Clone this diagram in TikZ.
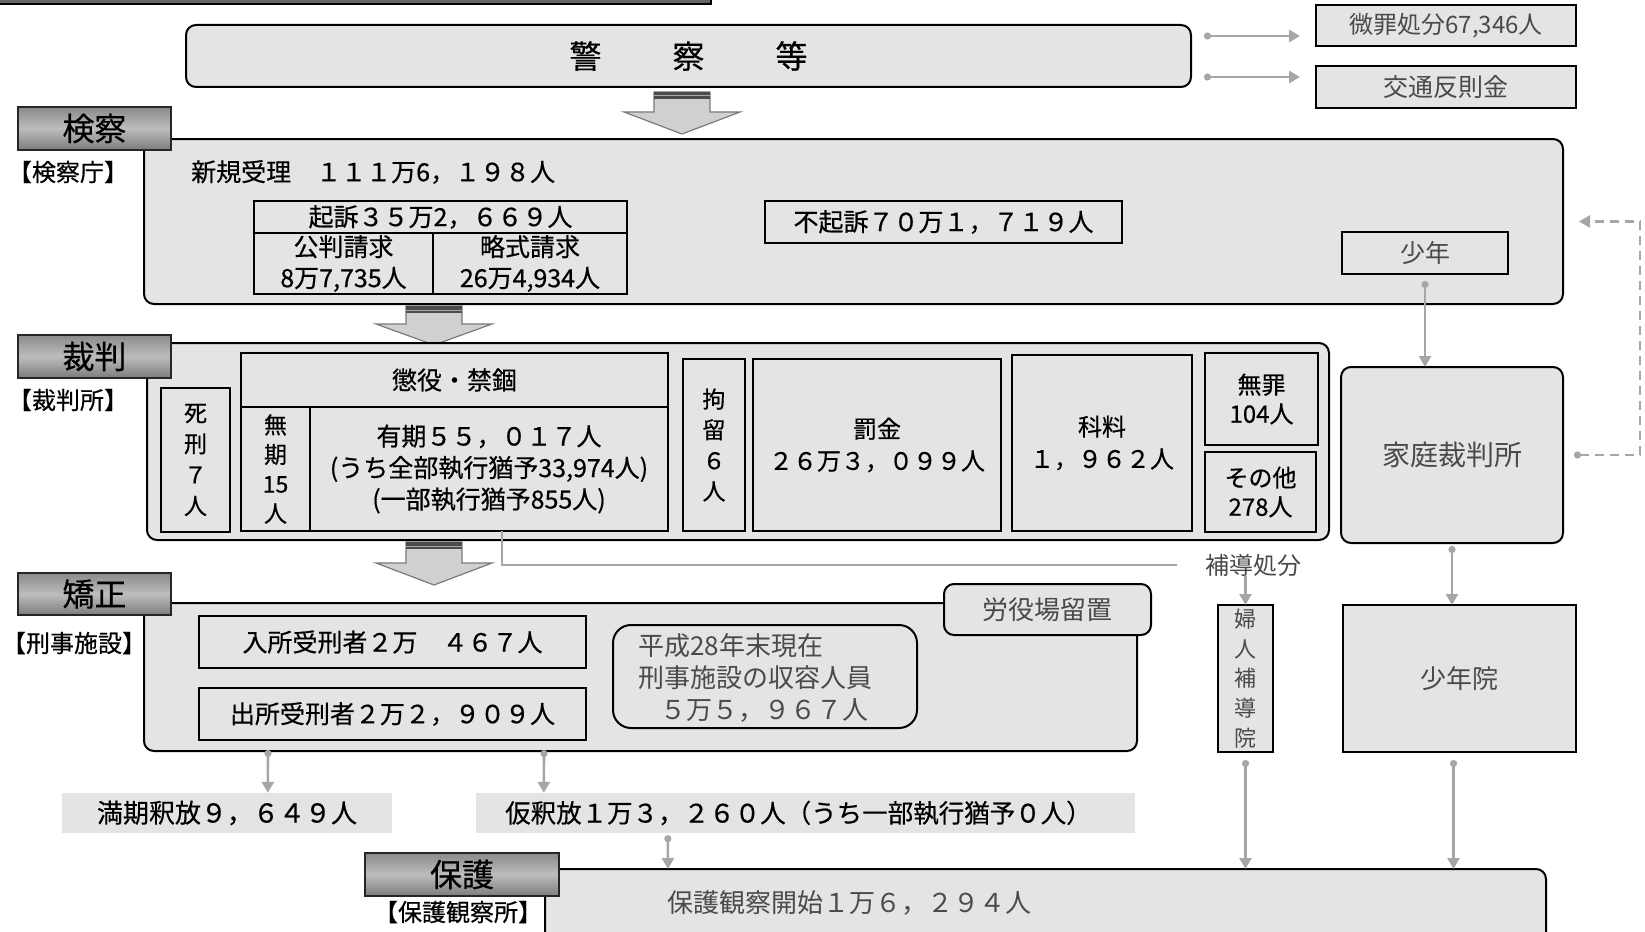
\documentclass[tikz,border=0pt]{standalone}
\usepackage{fontspec}
\setmainfont{Noto Sans CJK JP}
\newfontfamily\gth[FakeBold=0.5]{Noto Sans CJK JP}
\newfontfamily\mch{Noto Sans CJK JP}
\usetikzlibrary{arrows.meta,calc}
\definecolor{boxgray}{HTML}{E4E4E4}
\definecolor{arrgray}{HTML}{A6A6A6}
\definecolor{bafill}{HTML}{D0D0D0}
\definecolor{baedge}{HTML}{7A7A7A}
\definecolor{lbltop}{HTML}{8A8A8A}
\definecolor{lblmid}{HTML}{BDBDBD}
\definecolor{lblbot}{HTML}{7C7C7C}
\definecolor{mtext}{HTML}{4A4A4A}
\tikzset{
  bx/.style={draw=black, line width=2pt, fill=boxgray, inner sep=0pt, outer sep=0pt, align=center, font=\gth\fontsize{25}{31}\selectfont},
  rbx/.style={bx, rounded corners=10pt},
  mfont/.style={font=\mch\fontsize{#1}{32}\selectfont, text=mtext},
  lblbox/.style={draw=black!85, line width=2pt, top color=lbltop, bottom color=lblbot, middle color=lblmid, inner sep=0pt, font=\gth\fontsize{32}{32}\selectfont},
  capt/.style={font=\gth\fontsize{24}{24}\selectfont, inner sep=0pt},
  txt/.style={font=\gth\fontsize{25}{31}\selectfont, inner sep=0pt},
  garrow/.style={draw=arrgray, line width=2.6pt, {Circle[length=7pt]}-{Triangle[length=11pt,width=12pt]}},
  garrowb/.style={draw=arrgray, line width=2.6pt, -{Triangle[length=11pt,width=12pt]}},
  gline/.style={draw=arrgray, line width=2.6pt},
  gdash/.style={garrow, dash pattern=on 9pt off 6pt},
}
\newcommand\Bx[7]{\node[#1, minimum width={(#5)-(#3)}, minimum height={(#6)-(#4)}] (#2) at ({((#3)+(#5))/2},{((#4)+(#6))/2}) {#7};}
\newcommand\BlockArr[4]{%
  \path[fill=bafill, draw=baedge, line width=1.2pt] ({#1-28},#2) -- ({#1+28},#2) -- ({#1+28},#3) -- ({#1+58},#3) -- (#1,#4) -- ({#1-58},#3) -- ({#1-28},#3) -- cycle;
  \fill[black!70] ({#1-28},#2) rectangle ({#1+28},{#2+7});
  \draw[black!35, line width=1pt] ({#1-28},{#2+4}) -- ({#1+28},{#2+4});
}
\begin{document}
\begin{tikzpicture}[x=1pt,y=-1pt]
\useasboundingbox (0,0) rectangle (1645,931);
\clip (0,0) rectangle (1645,931);
\fill[white] (0,0) rectangle (1645,931);
% top bar
\node[draw=black, line width=2pt, fill=black!60, minimum width=730, minimum height=25, inner sep=0pt] (topbar) at (346,-8) {};
% police
\Bx{rbx, font=\gth\fontsize{32}{32}\selectfont}{police}{186}{25}{1191}{87}{警\hspace{71pt}察\hspace{71pt}等}
\Bx{bx, mfont=24}{bizai}{1316}{5}{1576}{46}{微罪処分67,346人}
\Bx{bx, mfont=25}{kotsu}{1316}{66}{1576}{108}{交通反則金}
\BlockArr{682}{92}{112}{134}
% prosecution
\Bx{rbx}{pros}{144}{139}{1563}{304}{}
\Bx{lblbox}{lkensatsu}{18}{107}{171}{150}{検察}
\node[capt] (ckensatsu) at (68,172) {【検察庁】};
\node[txt, anchor=west] (shinki) at (191,172) {新規受理　１１１万6，１９８人};
\Bx{bx}{kiso}{254}{201}{627}{233}{起訴３５万2，６６９人}
\Bx{bx}{kohan}{254}{233}{433}{294}{公判請求\\8万7,735人}
\Bx{bx}{ryaku}{433}{233}{627}{294}{略式請求\\26万4,934人}
\Bx{bx}{fukiso}{765}{201}{1122}{243}{不起訴７０万１，７１９人}
\Bx{bx, mfont=25}{shonen}{1342}{232}{1508}{274}{少年}
\BlockArr{434}{306}{324}{345}
% court
\Bx{rbx}{court}{147}{343}{1329}{540}{}
\Bx{lblbox}{lsaiban}{18}{335}{171}{378}{裁判}
\node[capt] (csaiban) at (68,400) {【裁判所】};
\Bx{bx, font=\gth\fontsize{23}{31}\selectfont}{shikei}{161}{388}{230}{532}{死\\刑\\７\\人}
\Bx{bx}{choeki}{241}{353}{668}{407}{懲役・禁錮}
\Bx{bx, font=\gth\fontsize{23}{29.5}\selectfont}{muki}{241}{407}{310}{531}{無\\期\\15\\人}
\Bx{bx, font=\gth\fontsize{25}{31.5}\selectfont}{yuki}{310}{407}{668}{531}{有期５５，０１７人\\(うち全部執行猶予33,974人)\\(一部執行猶予855人)}
\Bx{bx, font=\gth\fontsize{23}{30.7}\selectfont}{koryu}{683}{359}{745}{531}{拘\\留\\６\\人}
\Bx{bx, font=\gth\fontsize{24}{32}\selectfont}{bakkin}{753}{359}{1001}{531}{罰金\\２６万３，０９９人}
\Bx{bx, font=\gth\fontsize{24}{32}\selectfont}{karyo}{1012}{355}{1192}{531}{科料\\１，９６２人}
\Bx{bx, font=\gth\fontsize{24}{29}\selectfont}{muzai}{1205}{353}{1318}{445}{無罪\\104人}
\Bx{bx, font=\gth\fontsize{24}{29}\selectfont}{sonota}{1205}{452}{1316}{532}{その他\\278人}
\Bx{rbx, mfont=28}{katei}{1341}{367}{1563}{543}{家庭裁判所}
\BlockArr{434}{542}{563}{585}
\node[mfont=24, inner sep=0pt] (hodo) at (1253,565) {補導処分};
% corrections
\Bx{rbx}{kyosei}{144}{603}{1137}{751}{}
\Bx{lblbox}{lkyosei}{18}{573}{171}{615}{矯正}
\node[capt] (ckyosei) at (74,643) {【刑事施設】};
\Bx{rbx, mfont=26}{roeki}{944}{584}{1151}{635}{労役場留置}
\Bx{bx}{nyusho}{199}{616}{586}{668}{入所受刑者２万　４６７人}
\Bx{bx}{shussho}{199}{688}{586}{740}{出所受刑者２万２，９０９人}
\Bx{rbx, rounded corners=18pt}{heisei}{613}{625}{917}{728}{}
\node[anchor=west, align=left, inner sep=0pt, font=\mch\fontsize{26}{32}\selectfont, text=mtext] (heiseitxt) at (638,678) {平成28年末現在\\刑事施設の収容人員\\\hspace{22pt}５万５，９６７人};
\node[fill=boxgray, minimum width=330, minimum height=40, inner sep=0pt, font=\gth\fontsize{26}{31}\selectfont] (manki) at (227,813) {満期釈放９，６４９人};
\node[fill=boxgray, minimum width=659, minimum height=40, inner sep=0pt] (kari) at (805.5,813) {};
\node[inner sep=0pt, font=\gth\fontsize{25.5}{31}\selectfont, anchor=west] (karitxt) at (505,813) {仮釈放１万３，２６０人（うち一部執行猶予０人）};
% juvenile / women
\Bx{bx, font=\mch\fontsize{22}{29.7}\selectfont, text=mtext}{fujin}{1218}{605}{1273}{752}{婦\\人\\補\\導\\院}
\Bx{bx, mfont=26}{shonenin}{1343}{605}{1576}{752}{少年院}
% protection
\Bx{rbx}{hogo}{545}{869}{1546}{950}{}
\Bx{lblbox}{lhogo}{365}{853}{559}{896}{保護}
\node[capt] (chogo) at (458,912) {【保護観察所】};
\node[mfont=26, anchor=west, inner sep=0pt] (hogotxt) at (667,903) {保護観察開始１万６，２９４人};
% connectors
\draw[garrow] ($(police.north east)+(13,11)$) -- ($(bizai.south west)+(-16,-10)$);
\draw[garrow] ($(police.south east)+(13,-10)$) -- ($(kotsu.north west)+(-16,11)$);
\draw[garrow] ([yshift=-7pt]shonen.south) -- (shonen.south |- katei.north);
\draw[gdash] ([xshift=11pt]katei.east) -- ++(66,0) |- ([xshift=16pt]pros.east);
\draw[gline] ([xshift=13pt]yuki.south) |- ([xshift=-28pt]hodo.west);
\draw[garrowb] (hodo.south -| fujin.north) -- (fujin.north);
\draw[garrow] ([yshift=-3pt]katei.south) -- (katei.south |- shonenin.north);
\draw[garrow] ($(shussho.south west)+(69,10)$) -- ($(manki.north west)+(206,0)$);
\draw[garrow] ($(shussho.south west)+(345,10)$) -- ($(kari.north west)+(68,0)$);
\draw[garrow] ($(kari.south west)+(192,2)$) -- ($(hogo.north west)+(123,0)$);
\draw[garrow] ([yshift=-8pt]fujin.south) -- (fujin.south |- hogo.north);
\draw[garrow] ($(shonenin.south)+(-6,8)$) -- ($(shonenin.south |- hogo.north)+(-6,0)$);
\end{tikzpicture}
\end{document}
